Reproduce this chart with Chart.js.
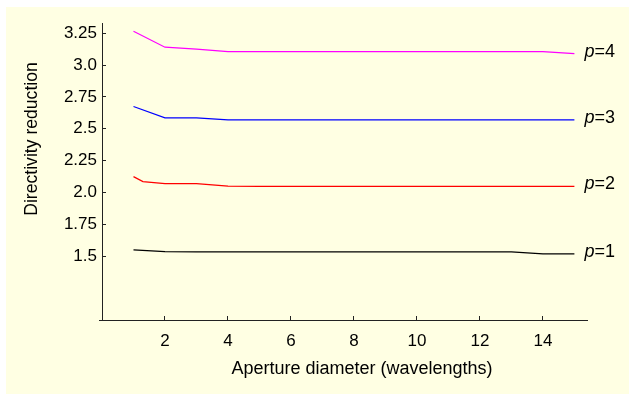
<!DOCTYPE html>
<html>
<head>
<meta charset="utf-8">
<script src="https://cdn.jsdelivr.net/npm/chart.js@4.4.0/dist/chart.umd.min.js"></script>
<style>
  html, body { margin: 0; padding: 0; background: #fff; }
</style>
</head>
<body>
<canvas id="chart" width="629" height="394"></canvas>
<script>
// aperture diameter in wavelengths
const aperture = [1, 2, 3, 4, 5, 6, 7, 8, 9, 10, 11, 12, 13, 14, 15];
const apertureP2 = [1, 1.3, 2, 3, 4, 5, 6, 7, 8, 9, 10, 11, 12, 13, 14, 15];

// directivity reduction for each p
const p1 = [1.55, 1.536, 1.535, 1.535, 1.535, 1.535, 1.535, 1.535, 1.535, 1.535, 1.535, 1.535, 1.535, 1.518, 1.518];
const p2 = [2.125, 2.086, 2.07, 2.07, 2.05, 2.048, 2.048, 2.048, 2.048, 2.048, 2.048, 2.048, 2.048, 2.048, 2.048, 2.048];
const p3 = [2.675, 2.586, 2.586, 2.57, 2.57, 2.57, 2.57, 2.57, 2.57, 2.57, 2.57, 2.57, 2.57, 2.57, 2.57];
const p4 = [3.265, 3.14, 3.125, 3.105, 3.105, 3.105, 3.105, 3.105, 3.105, 3.105, 3.105, 3.105, 3.105, 3.105, 3.09];

const seriesNames = ['1', '2', '3', '4'];
const seriesColors = ['#000000', '#ff0000', '#0000ff', '#ff00ff'];

const xTicks = [2, 4, 6, 8, 10, 12, 14];
const yTicks = [1.5, 1.75, 2.0, 2.25, 2.5, 2.75, 3.0, 3.25];
const yTickLabels = ['1.5', '1.75', '2.0', '2.25', '2.5', '2.75', '3.0', '3.25'];

const FONT = '"Liberation Sans", Arial, sans-serif';

function pts(xs, ys) {
  return ys.map((y, i) => ({ x: xs[i], y: y }));
}

const extras = {
  id: 'extras',
  beforeDraw(chart) {
    const ctx = chart.ctx;
    ctx.save();
    ctx.fillStyle = '#ffffe3';
    ctx.fillRect(6, 7, chart.width - 6, chart.height - 7);
    ctx.restore();
  },
  afterDraw(chart) {
    const ctx = chart.ctx;
    const xs = chart.scales.x, ys = chart.scales.y;
    ctx.save();
    ctx.fillStyle = '#000';
    ctx.textBaseline = 'middle';
    ctx.textAlign = 'left';

    // x axis line runs a little past the y axis, like the original
    ctx.strokeStyle = '#222';
    ctx.lineWidth = 1;
    ctx.beginPath();
    ctx.moveTo(99, Math.round(xs.top) + 0.5);
    ctx.lineTo(xs.left, Math.round(xs.top) + 0.5);
    ctx.stroke();

    // series labels at the right end of each line
    chart.data.datasets.forEach((ds, i) => {
      const last = ds.data[ds.data.length - 1];
      const px = xs.getPixelForValue(last.x) + 10;
      const py = ys.getPixelForValue(last.y) - 2;
      ctx.font = 'italic 18px ' + FONT;
      ctx.fillText('p', px, py);
      const w = ctx.measureText('p').width;
      ctx.font = '18px ' + FONT;
      ctx.fillText('=' + seriesNames[i], px + w, py);
    });

    // axis titles
    ctx.textAlign = 'center';
    ctx.font = '18px ' + FONT;
    ctx.fillText('Aperture diameter (wavelengths)', 362, 369);

    ctx.translate(32, 139);
    ctx.rotate(-Math.PI / 2);
    ctx.font = '17.6px ' + FONT;
    ctx.fillText('Directivity reduction', 0, 0);
    ctx.restore();
  }
};

const ctx = document.getElementById('chart').getContext('2d');
const chart = new Chart(ctx, {
  type: 'line',
  data: {
    datasets: [
      { data: pts(aperture, p1) },
      { data: pts(apertureP2, p2) },
      { data: pts(aperture, p3) },
      { data: pts(aperture, p4) }
    ].map((d, i) => Object.assign(d, {
      borderColor: seriesColors[i],
      borderWidth: 1.2,
      pointRadius: 0,
      tension: 0,
      fill: false
    }))
  },
  options: {
    responsive: false,
    animation: false,
    layout: { padding: { left: 0, right: 42, top: 23, bottom: 0 } },
    plugins: { legend: { display: false }, tooltip: { enabled: false } },
    scales: {
      x: {
        type: 'linear',
        min: 0,
        max: 15.4,
        afterBuildTicks: s => { s.ticks = xTicks.map(v => ({ value: v })); },
        afterFit: s => { s.height = 74; },
        grid: { drawOnChartArea: false, drawTicks: true, tickLength: -4, color: '#222' },
        border: { color: '#222', width: 1 },
        ticks: {
          color: '#000',
          padding: 15,
          maxRotation: 0,
          autoSkip: false,
          font: { family: FONT, size: 17 },
          callback: v => String(v)
        }
      },
      y: {
        type: 'linear',
        min: 1.0,
        max: 3.33,
        afterBuildTicks: s => { s.ticks = yTicks.map(v => ({ value: v })); },
        afterFit: s => { s.width = 102; },
        grid: { drawOnChartArea: false, drawTicks: true, tickLength: -4, color: '#222' },
        border: { color: '#222', width: 1 },
        ticks: {
          color: '#000',
          padding: 9,
          autoSkip: false,
          font: { family: FONT, size: 17 },
          callback: v => {
            const i = yTicks.findIndex(t => Math.abs(t - v) < 1e-6);
            return i >= 0 ? yTickLabels[i] : '';
          }
        }
      }
    }
  },
  plugins: [extras]
});
</script>
</body>
</html>
